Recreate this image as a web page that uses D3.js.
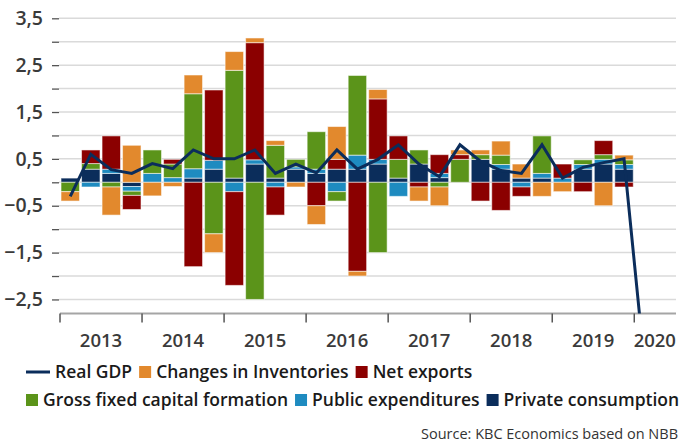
<!DOCTYPE html>
<html>
<head>
<meta charset="utf-8">
<script src="https://cdn.jsdelivr.net/npm/d3@7"></script>
<style>
body { margin: 0; background: #fff; }
svg text { font-family: "Open Sans", sans-serif; }
</style>
</head>
<body>
<div id="chart"></div>
<script>
// ##### data (% q/q contributions) #####
var quarters = ["2013Q1","2013Q2","2013Q3","2013Q4","2014Q1","2014Q2","2014Q3","2014Q4",
	"2015Q1","2015Q2","2015Q3","2015Q4","2016Q1","2016Q2","2016Q3","2016Q4",
	"2017Q1","2017Q2","2017Q3","2017Q4","2018Q1","2018Q2","2018Q3","2018Q4",
	"2019Q1","2019Q2","2019Q3","2019Q4","2020Q1","2020Q2"];
var years = ["2013","2014","2015","2016","2017","2018","2019","2020"];

var privCons  = [0.09, 0.28, 0.19,-0.09, 0,    0,    0.09, 0.28, 0.09, 0.39, 0.09, 0.28, 0.19, 0.28, 0.28, 0.39, 0.09, 0.39, 0.1,  0,    0.49, 0.28, 0.09, 0.09, 0,    0.28, 0.39, 0.28];
var publicExp = [0,   -0.1,  0.09,-0.1,  0.19, 0.1,  0.2,  0.19,-0.2,  0.09,-0.1,  0.05, 0.09,-0.2,  0.3,  0.1, -0.3,  0,    0.09, 0,    0,    0.1, -0.1,  0.1,  0.09, 0.1,  0.1,  0.1];
var gfcf      = [-0.2, 0.12,-0.1, -0.09, 0.5,  0.29, 1.6, -1.1,  2.3, -2.5,  0.7,  0.16, 0.8, -0.2,  1.7, -1.5,  0.4,  0.3, -0.1,  0.49, 0.1,  0.2,  0,    0.8,  0,    0.1,  0.1,  0.1];
var netExp    = [0,    0.29, 0.71,-0.3,  0,    0.1, -1.8,  1.5, -2.0,  2.5, -0.6,  0,   -0.5,  0.21,-1.9,  1.29, 0.5, -0.1,  0.4,  0.1, -0.4, -0.6, -0.2,  0,    0.3, -0.2,  0.3, -0.1];
var invent    = [-0.2, 0,   -0.6,  0.79,-0.29,-0.09, 0.4, -0.4,  0.4,  0.1,  0.1, -0.1, -0.4,  0.7, -0.1,  0.2,  0,   -0.3, -0.4,  0.1,  0.1,  0.3,  0.3, -0.3, -0.2,  0,   -0.5,  0.1];
var realGdp   = [-0.3, 0.6,  0.27, 0.19, 0.4,  0.29, 0.69, 0.5,  0.5,  0.69, 0.19, 0.39, 0.2,  0.69, 0.28, 0.49, 0.8,  0.39, 0.12, 0.8,  0.45, 0.25, 0.19, 0.8,  0.09, 0.32, 0.42, 0.5, -3.9];

var keys   = ["pc","pub","gfcf","nx","inv"];
var labels = {pc: "Private consumption", pub: "Public expenditures", gfcf: "Gross fixed capital formation",
	nx: "Net exports", inv: "Changes in Inventories"};
var colors = {pc: "#0b2d5b", pub: "#1e8bc0", gfcf: "#5b941a", nx: "#8b0000", inv: "#e2892d"};
var gdpColor = "#0b2d5b";

// ##### layout #####
var W = 681, H = 443;
var plotL = 60, plotR = 675.3, plotT = 18.3, plotB = 313.5;

var svg = d3.select("#chart").append("svg")
	.attr("width", W)
	.attr("height", H);

var x = d3.scaleBand().domain(quarters).range([plotL, plotR]).paddingInner(0.1).paddingOuter(0.05);
var y = d3.scaleLinear().domain([-2.8, 3.5]).range([plotB, plotT]);
var fmt = d3.formatLocale({decimal: ",", thousands: ".", grouping: [3], currency: ["", ""]}).format(".1f");

var rows = privCons.map(function(v, i) {
	return {q: quarters[i], pc: v, pub: publicExp[i], gfcf: gfcf[i], nx: netExp[i], inv: invent[i]};
});
var stacked = d3.stack().keys(keys).offset(d3.stackOffsetDiverging)(rows);

// gridlines + y axis
var yTicks = d3.range(-5, 8).map(function(k) { return k / 2; });
svg.append("g").selectAll("line")
	.data(yTicks).enter().append("line")
	.attr("x1", 59).attr("x2", 676)
	.attr("y1", function(d) { return y(d); })
	.attr("y2", function(d) { return y(d); })
	.attr("stroke", "#dadada")
	.attr("stroke-width", 1.5);

var yAxis = svg.append("g")
	.attr("transform", "translate(59,0)")
	.call(d3.axisLeft(y).tickValues(yTicks).tickSize(7).tickPadding(9)
		.tickFormat(function(d) { return Math.abs(d * 2) % 2 === 1 ? fmt(d) : ""; }));
yAxis.select(".domain").remove();
yAxis.selectAll(".tick line").attr("stroke", "#555").attr("stroke-width", 1.3);
yAxis.selectAll(".tick text")
	.style("font-family", "'Open Sans', sans-serif")
	.style("font-size", "19.5px")
	.style("font-weight", 600)
	.attr("fill", "#3a3a3a");

// bars
var layer = svg.append("g").selectAll("g")
	.data(stacked).enter().append("g")
	.attr("fill", function(d) { return colors[d.key]; });

layer.selectAll("rect")
	.data(function(d) { return d; })
	.enter().append("rect")
	.attr("x", function(d) { return x(d.data.q); })
	.attr("width", x.bandwidth())
	.attr("y", function(d) { return y(Math.max(d[0], d[1])); })
	.attr("height", function(d) { return Math.abs(y(d[0]) - y(d[1])); })
	.attr("stroke", "#fff")
	.attr("stroke-opacity", 0.55)
	.attr("stroke-width", 1);

// x axis
svg.append("line")
	.attr("x1", plotL).attr("x2", 676)
	.attr("y1", plotB).attr("y2", plotB)
	.attr("stroke", "#a5a5a5")
	.attr("stroke-width", 2);

var edge = (x.step() - x.bandwidth()) / 2;
var yearStart = years.map(function(yr) { return x(yr + "Q1") - edge; });

svg.append("g").selectAll("line")
	.data(yearStart).enter().append("line")
	.attr("x1", function(d) { return d; })
	.attr("x2", function(d) { return d; })
	.attr("y1", plotB).attr("y2", plotB + 9)
	.attr("stroke", "#555")
	.attr("stroke-width", 1.5);

svg.append("g").selectAll("text")
	.data(years).enter().append("text")
	.attr("x", function(d, i) { return (yearStart[i] + (i < years.length - 1 ? yearStart[i + 1] : plotR)) / 2; })
	.attr("y", 346.5)
	.attr("text-anchor", "middle")
	.style("font-size", "18.5px")
	.style("font-weight", 600)
	.attr("fill", "#3a3a3a")
	.text(function(d) { return d; });

// GDP line, clipped at the axis
svg.append("clipPath").attr("id", "plotclip")
	.append("rect").attr("x", 0).attr("y", 0).attr("width", W).attr("height", plotB);

var line = d3.line()
	.x(function(d, i) { return x(quarters[i]) + x.bandwidth() / 2; })
	.y(function(d) { return y(d); });

svg.append("path")
	.datum(realGdp)
	.attr("clip-path", "url(#plotclip)")
	.attr("d", line)
	.attr("fill", "none")
	.attr("stroke", gdpColor)
	.attr("stroke-width", 3)
	.attr("stroke-linejoin", "miter");

// legend
var legendRows = [["gdp","inv","nx"], ["gfcf","pub","pc"]];
var legend = svg.append("g");
legendRows.forEach(function(row, r) {
	var cx = 26, cy = 372 + r * 28;
	row.forEach(function(k) {
		if (k === "gdp") {
			legend.append("line")
				.attr("x1", cx).attr("x2", cx + 24)
				.attr("y1", cy).attr("y2", cy)
				.attr("stroke", gdpColor).attr("stroke-width", 3);
			cx += 29;
		} else {
			legend.append("rect")
				.attr("x", cx).attr("y", cy - 6)
				.attr("width", 12).attr("height", 12)
				.attr("fill", colors[k]);
			cx += 17;
		}
		var t = legend.append("text")
			.attr("x", cx).attr("y", cy + 6)
			.style("font-size", "17.5px")
			.style("font-weight", 600)
			.attr("fill", "#1a1a1a")
			.text(k === "gdp" ? "Real GDP" : labels[k]);
		cx += t.node().getComputedTextLength() + 7;
	});
});

svg.append("text")
	.attr("x", 678).attr("y", 439)
	.attr("text-anchor", "end")
	.style("font-size", "14.5px")
	.attr("fill", "#333")
	.text("Source: KBC Economics based on NBB");
</script>
</body>
</html>
